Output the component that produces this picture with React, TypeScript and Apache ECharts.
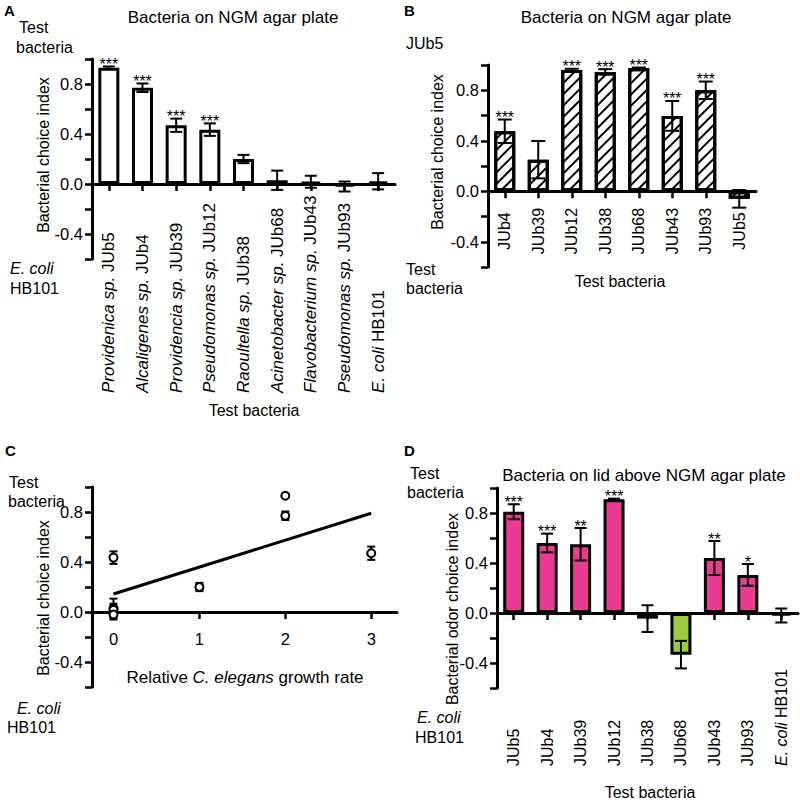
import React, { useEffect, useRef } from 'react';
import * as echarts from 'echarts';

const FONT = 'Liberation Sans, Arial, Helvetica, sans-serif';
const FS = 16;
const PINK = '#EB3A94';
const GREEN = '#9CCB3B';

// Panel A (also used for panel C)
const genusA = ['Providenica sp.', 'Alcaligenes sp.', 'Providencia sp.', 'Pseudomonas sp.', 'Raoultella sp.', 'Acinetobacter sp.', 'Flavobacterium sp.', 'Pseudomonas sp.', 'E. coli'];
const strainA = ['JUb5', 'JUb4', 'JUb39', 'JUb12', 'JUb38', 'JUb68', 'JUb43', 'JUb93', 'HB101'];
const meanA = [0.93, 0.77, 0.47, 0.435, 0.2, 0.03, 0.018, -0.02, 0.022];
const errA = [0.01, 0.034, 0.053, 0.05, 0.033, 0.077, 0.048, 0.04, 0.065];
const starsA = ['***', '***', '***', '***', '', '', '', '', ''];

// Panel B
const catB = ['JUb4', 'JUb39', 'JUb12', 'JUb38', 'JUb68', 'JUb43', 'JUb93', 'JUb5'];
const meanB = [0.475, 0.25, 0.96, 0.945, 0.975, 0.597, 0.8, -0.06];
const errB = [0.093, 0.148, 0.01, 0.022, 0.005, 0.118, 0.069, 0.07];
const starsB = ['***', '', '***', '***', '***', '***', '***', ''];

// Panel C: relative growth rate for the 8 test bacteria (JUb5 ... JUb93)
const growthC = [2, 2, 3, 0, 1, 0, 0, 0];
const tickC = [0, 1, 2, 3];
const fitX = [0, 3];
const fitY = [0.144, 0.79];

// Panel D
const catD = ['JUb5', 'JUb4', 'JUb39', 'JUb12', 'JUb38', 'JUb68', 'JUb43', 'JUb93', 'HB101'];
const meanD = [0.81, 0.56, 0.55, 0.91, -0.045, -0.333, 0.44, 0.305, -0.02];
const errD = [0.06, 0.075, 0.13, 0.005, 0.107, 0.11, 0.136, 0.087, 0.056];
const starsD = ['***', '***', '**', '***', '', '', '**', '*', ''];
const attractD = [true, true, true, true, false, false, true, true, true];

const fmtY = (v: number) => {
  const r = Math.round(v * 10);
  return Math.abs(r % 4) === 0 ? (r / 10).toFixed(1) : '';
};

const yAxisCfg = (gridIndex: number) => ({
  type: 'value',
  gridIndex,
  min: -0.6,
  max: 1.0,
  interval: 0.2,
  axisLine: { show: true, onZero: false, lineStyle: { color: '#000', width: 3 } },
  axisTick: { show: true, length: 7, lineStyle: { color: '#000', width: 2.5 } },
  axisLabel: { color: '#000', fontSize: 16.5, fontFamily: FONT, margin: 9, formatter: fmtY },
  splitLine: { show: false },
});

const xCatCfg = (gridIndex: number, data: string[], label: any) => ({
  type: 'category',
  gridIndex,
  data,
  axisLine: { show: true, onZero: true, lineStyle: { color: '#000', width: 3 } },
  axisTick: { show: true, alignWithLabel: true, length: 7, lineStyle: { color: '#000', width: 2.5 } },
  axisLabel: { interval: 0, rotate: 90, color: '#000', fontSize: FS, fontFamily: FONT, ...label },
  splitLine: { show: false },
});

const errRender = (stars: string[] | null, cap: number) => (params: any, api: any) => {
  const i = params.dataIndex;
  const x = api.value(0);
  const m = api.value(1);
  const e = api.value(2);
  const top = api.coord([x, m + e]);
  const bot = api.coord([x, m - e]);
  const style = { stroke: '#000', lineWidth: 2 };
  const children: any[] = [
    { type: 'line', shape: { x1: top[0], y1: top[1], x2: bot[0], y2: bot[1] }, style },
    { type: 'line', shape: { x1: top[0] - cap, y1: top[1], x2: top[0] + cap, y2: top[1] }, style },
    { type: 'line', shape: { x1: bot[0] - cap, y1: bot[1], x2: bot[0] + cap, y2: bot[1] }, style },
  ];
  if (stars && stars[i]) {
    children.push({
      type: 'text',
      x: top[0],
      y: top[1] - 2,
      style: { text: stars[i], fontSize: 16, fontFamily: FONT, fill: '#000', align: 'center', verticalAlign: 'middle' },
    });
  }
  return { type: 'group', children };
};

const txt = (text: string, x: number, y: number, extra: any = {}, rotation = 0) => ({
  type: 'text',
  x,
  y,
  rotation,
  style: { text, fontSize: FS, fontFamily: FONT, fill: '#000', align: 'left', verticalAlign: 'middle', ...extra },
});

const italicRich17 = { i: { fontStyle: 'italic', fontSize: 17, fontFamily: FONT, fill: '#000' } };

export default function App() {
  const ref = useRef<HTMLDivElement>(null);
  useEffect(() => {
    if (!ref.current) return;
    const chart = echarts.init(ref.current, undefined, { renderer: 'svg' });
    const gridBase = { outerBoundsMode: 'none', containLabel: false };
    const option: any = {
      animation: false,
      backgroundColor: '#fff',
      textStyle: { fontFamily: FONT },
      grid: [
        { ...gridBase, left: 92, right: 405, top: 59, bottom: 541 },
        { ...gridBase, left: 488, right: 44, top: 65, bottom: 533 },
        { ...gridBase, left: 92, right: 403, top: 487, bottom: 113 },
        { ...gridBase, left: 497, right: 2, top: 488, bottom: 112 },
      ],
      xAxis: [
        xCatCfg(0, strainA, {
          align: 'left',
          verticalAlign: 'middle',
          margin: 134,
          fontSize: 17,
          formatter: (_v: string, i: number) => `{i|${genusA[i]}} ${strainA[i]}`,
          rich: { i: { fontStyle: 'italic', fontSize: 17, fontFamily: FONT, color: '#000' } },
        }),
        xCatCfg(1, catB, { align: 'center', verticalAlign: 'middle', margin: -36 }),
        {
          type: 'value',
          gridIndex: 2,
          min: -0.25,
          max: 3.3,
          axisLine: { show: true, onZero: true, lineStyle: { color: '#000', width: 3 } },
          axisTick: { show: true, length: 7, customValues: tickC, lineStyle: { color: '#000', width: 2.5 } },
          axisLabel: { customValues: tickC, margin: -57, fontSize: 16.5, color: '#000', fontFamily: FONT },
          splitLine: { show: false },
        },
        xCatCfg(3, catD, {
          align: 'left',
          verticalAlign: 'middle',
          margin: 78,
          formatter: (v: string, i: number) => (i === catD.length - 1 ? `{i|E. coli} ${v}` : v),
          rich: { i: { fontStyle: 'italic', fontSize: FS, fontFamily: FONT, color: '#000' } },
        }),
      ],
      yAxis: [yAxisCfg(0), yAxisCfg(1), yAxisCfg(2), yAxisCfg(3)],
      series: [
        // A
        {
          type: 'bar', xAxisIndex: 0, yAxisIndex: 0, data: meanA, barWidth: 21,
          itemStyle: { color: '#fff', borderColor: '#000', borderWidth: 3 }, z: 2,
        },
        {
          type: 'custom', xAxisIndex: 0, yAxisIndex: 0, z: 3,
          data: meanA.map((m, i) => [i, m, errA[i]]),
          renderItem: errRender(starsA, 6),
        },
        // B
        {
          type: 'bar', xAxisIndex: 1, yAxisIndex: 1, data: meanB, barWidth: 21,
          itemStyle: {
            color: '#fff', borderColor: '#000', borderWidth: 3,
            decal: { symbol: 'rect', symbolSize: 1, dashArrayX: [1, 0], dashArrayY: [2, 6], rotation: -Math.PI / 4, color: '#000', backgroundColor: '#fff' },
          },
          z: 2,
        },
        {
          type: 'custom', xAxisIndex: 1, yAxisIndex: 1, z: 3,
          data: meanB.map((m, i) => [i, m, errB[i]]),
          renderItem: errRender(starsB, 7),
        },
        // C
        {
          type: 'line', xAxisIndex: 2, yAxisIndex: 2, z: 2,
          data: fitX.map((x, i) => [x, fitY[i]]),
          showSymbol: false, symbol: 'none',
          lineStyle: { color: '#000', width: 3 },
        },
        {
          type: 'custom', xAxisIndex: 2, yAxisIndex: 2, z: 3,
          data: growthC.map((g, i) => [g, meanA[i], errA[i]]),
          renderItem: errRender(null, 4),
        },
        {
          type: 'scatter', xAxisIndex: 2, yAxisIndex: 2, z: 4,
          data: growthC.map((g, i) => [g, meanA[i]]),
          symbol: 'circle', symbolSize: 8,
          itemStyle: { color: '#fff', borderColor: '#000', borderWidth: 2, opacity: 1 },
        },
        // D
        {
          type: 'bar', xAxisIndex: 3, yAxisIndex: 3, barWidth: 21, z: 2,
          data: meanD.map((v, i) => ({ value: v, itemStyle: { color: attractD[i] ? PINK : GREEN } })),
          itemStyle: { borderColor: '#000', borderWidth: 3 },
        },
        {
          type: 'custom', xAxisIndex: 3, yAxisIndex: 3, z: 3,
          data: meanD.map((m, i) => [i, m, errD[i]]),
          renderItem: errRender(starsD, 6),
        },
      ],
      graphic: [
        // A
        txt('A', 4, 10, { fontWeight: 'bold', fontSize: 15 }),
        txt('Bacteria on NGM agar plate', 233, 17, { align: 'center', fontSize: 17 }),
        txt('Test', 19, 27),
        txt('bacteria', 16, 47),
        txt('E. coli', 10, 268, { fontStyle: 'italic' }),
        txt('HB101', 10, 288),
        txt('Test bacteria', 254, 410, { align: 'center' }),
        txt('Bacterial choice index', 43, 155, { align: 'center' }, Math.PI / 2),
        // B
        txt('B', 404, 10, { fontWeight: 'bold', fontSize: 15 }),
        txt('Bacteria on NGM agar plate', 626, 17, { align: 'center', fontSize: 17 }),
        txt('JUb5', 406, 43),
        txt('Test', 406, 269),
        txt('bacteria', 406, 288),
        txt('Test bacteria', 620, 281, { align: 'center' }),
        txt('Bacterial choice index', 437, 152, { align: 'center' }, Math.PI / 2),
        // C
        txt('C', 5, 450, { fontWeight: 'bold', fontSize: 15 }),
        txt('Test', 9, 482),
        txt('bacteria', 8, 501),
        txt('E. coli', 17, 708, { fontStyle: 'italic' }),
        txt('HB101', 7, 727),
        txt('Relative {i|C. elegans} growth rate', 245, 677, { align: 'center', fontSize: 17, rich: italicRich17 }),
        txt('Bacterial choice index', 43, 598, { align: 'center' }, Math.PI / 2),
        // D
        txt('D', 404, 450, { fontWeight: 'bold', fontSize: 15 }),
        txt('Bacteria on lid above NGM agar plate', 644, 475, { align: 'center', fontSize: 17 }),
        txt('Test', 410, 473),
        txt('bacteria', 407, 492),
        txt('E. coli', 417, 717, { fontStyle: 'italic' }),
        txt('HB101', 415, 737),
        txt('Test bacteria', 650, 792, { align: 'center' }),
        txt('Bacterial odor choice index', 452, 609, { align: 'center' }, Math.PI / 2),
      ],
    };
    chart.setOption(option);
    return () => chart.dispose();
  }, []);
  return <div ref={ref} style={{ position: 'absolute', left: 0, top: 0, width: 800, height: 800 }} />;
}
